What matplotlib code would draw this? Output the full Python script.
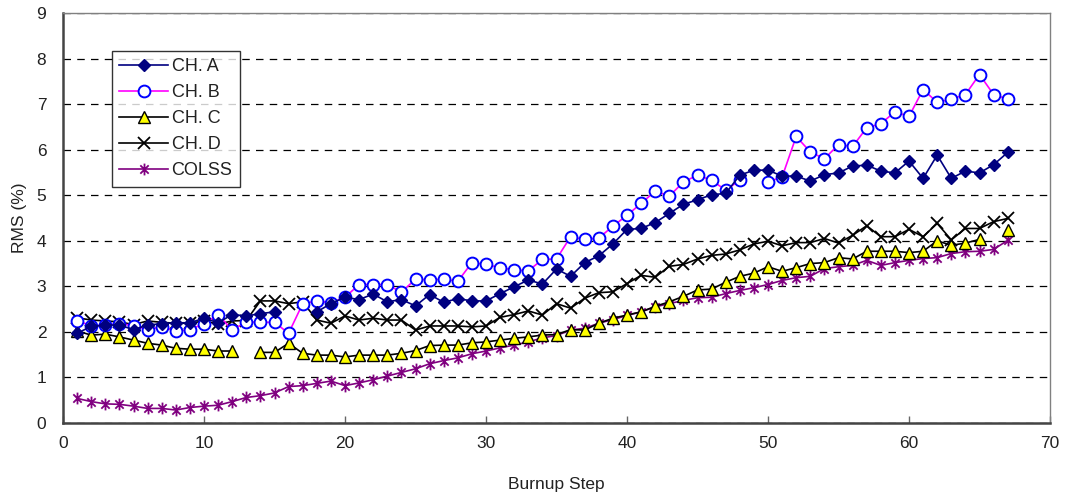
import numpy as np
import matplotlib
matplotlib.use("Agg")
import matplotlib.pyplot as plt
from matplotlib.path import Path

nan = np.nan
steps = list(range(1, 68))

ch_a = [1.97, 2.12, 2.15, 2.15, 2.05, 2.15, 2.18, 2.20, 2.20, 2.30,
        2.20, 2.38, 2.35, 2.40, 2.44, nan, nan, 2.44, 2.62, 2.76,
        2.71, 2.83, 2.66, 2.71, 2.57, 2.82, 2.65, 2.73, 2.68, 2.68,
        2.84, 2.99, 3.14, 3.05, 3.38, 3.22, 3.52, 3.67, 3.93, 4.25,
        4.27, 4.40, 4.60, 4.80, 4.90, 5.01, 5.04, 5.44, 5.55, 5.55,
        5.42, 5.42, 5.31, 5.45, 5.49, 5.64, 5.66, 5.53, 5.49, 5.75,
        5.37, 5.88, 5.37, 5.53, 5.49, 5.67, 5.94]

ch_b = [2.25, 2.13, 2.15, 2.18, 2.14, 2.05, 2.11, 2.02, 2.05, 2.18,
        2.38, 2.04, 2.22, 2.21, 2.21, 1.97, 2.62, 2.68, 2.64, 2.76,
        3.04, 3.04, 3.04, 2.87, 3.16, 3.14, 3.16, 3.11, 3.52, 3.48,
        3.41, 3.36, 3.34, 3.59, 3.60, 4.09, 4.03, 4.06, 4.32, 4.56,
        4.82, 5.09, 4.98, 5.29, 5.44, 5.33, 5.11, 5.33, nan, 5.29,
        5.40, 6.29, 5.95, 5.80, 6.11, 6.07, 6.48, 6.57, 6.83, 6.73,
        7.32, 7.04, 7.11, 7.21, 7.65, 7.21, 7.11]

ch_c = [2.02, 1.93, 1.95, 1.89, 1.82, 1.75, 1.71, 1.64, 1.62, 1.62,
        1.58, 1.58, nan, 1.55, 1.55, 1.75, 1.53, 1.49, 1.49, 1.45,
        1.49, 1.49, 1.49, 1.53, 1.59, 1.70, 1.71, 1.71, 1.76, 1.78,
        1.82, 1.86, 1.89, 1.93, 1.94, 2.05, 2.04, 2.19, 2.30, 2.37,
        2.44, 2.56, 2.66, 2.78, 2.92, 2.94, 3.09, 3.22, 3.29, 3.43,
        3.33, 3.41, 3.50, 3.52, 3.63, 3.60, 3.77, 3.77, 3.77, 3.74,
        3.77, 4.00, 3.90, 3.95, 4.03, nan, 4.23]

ch_d = [2.31, 2.26, 2.24, 2.22, 2.16, 2.24, 2.21, 2.19, 2.19, 2.24,
        2.17, 2.24, 2.25, 2.68, 2.68, 2.62, 2.66, 2.26, 2.19, 2.35,
        2.26, 2.30, 2.26, 2.26, 2.04, 2.13, 2.13, 2.13, 2.11, 2.13,
        2.32, 2.38, 2.46, 2.37, 2.62, 2.52, 2.74, 2.86, 2.88, 3.06,
        3.24, 3.20, 3.44, 3.48, 3.60, 3.68, 3.71, 3.80, 3.93, 3.99,
        3.89, 3.96, 3.96, 4.05, 3.95, 4.12, 4.33, 4.09, 4.09, 4.25,
        4.09, 4.38, 4.02, 4.27, 4.27, 4.42, 4.49]

colss = [0.54, 0.47, 0.42, 0.41, 0.37, 0.32, 0.32, 0.285, 0.34, 0.37,
         0.39, 0.47, 0.56, 0.60, 0.66, 0.80, 0.82, 0.87, 0.92, 0.82,
         0.88, 0.95, 1.03, 1.11, 1.19, 1.30, 1.37, 1.43, 1.52, 1.58,
         1.65, 1.71, 1.78, 1.87, 1.92, 2.04, 2.08, 2.19, 2.27, 2.36,
         2.44, 2.55, 2.62, 2.69, 2.75, 2.76, 2.84, 2.91, 2.97, 3.04,
         3.13, 3.19, 3.22, 3.39, 3.43, 3.46, 3.57, 3.46, 3.52, 3.57,
         3.61, 3.63, 3.72, 3.76, 3.77, 3.81, 4.01]

series_names = ["CH. A", "CH. B", "CH. C", "CH. D", "COLSS"]
x_ticks = [0, 10, 20, 30, 40, 50, 60, 70]
y_ticks = [0, 1, 2, 3, 4, 5, 6, 7, 8, 9]

plt.rcParams['font.family'] = ['Liberation Sans', 'DejaVu Sans']

# Excel-like asterisk marker: vertical bar plus X
s = 0.7071
star_path = Path([(0, -1), (0, 1), (-s, -s), (s, s), (-s, s), (s, -s)],
                 [Path.MOVETO, Path.LINETO, Path.MOVETO, Path.LINETO,
                  Path.MOVETO, Path.LINETO])

fig = plt.figure(figsize=(10.69, 4.98), dpi=100)
ax = fig.add_axes([63/1069, 1-423/498, (1050-63)/1069, (423-13)/498])

lw = 1.2
ax.plot(steps, ch_a, color='#000080', lw=lw, marker='D', ms=6.5,
        mfc='#000080', mec='#000080', label=series_names[0], zorder=5)
ax.plot(steps, ch_b, color='#FF00FF', lw=lw, marker='o', ms=8.5,
        mfc='white', mec='#0000FF', mew=1.4, label=series_names[1], zorder=4)
ax.plot(steps, ch_c, color='black', lw=lw, marker='^', ms=8,
        mfc='#FFFF00', mec='black', mew=1.0, label=series_names[2], zorder=3)
ax.plot(steps, ch_d, color='black', lw=lw, marker='x', ms=8.5,
        mec='black', mew=1.3, label=series_names[3], zorder=3)
ax.plot(steps, colss, color='#800080', lw=lw, marker=star_path, ms=8.5,
        mec='#800080', mew=1.3, label=series_names[4], zorder=2)

ax.set_xlim(0, 70)
ax.set_ylim(0, 9)
ax.set_xticks(x_ticks)
ax.set_yticks(y_ticks)
ax.yaxis.grid(True, linestyle=(0, (6, 5)), color='black', lw=0.9)
ax.set_axisbelow(True)

for side in ['top', 'right']:
    ax.spines[side].set_color('#808080')
    ax.spines[side].set_linewidth(1.0)
for side in ['left', 'bottom']:
    ax.spines[side].set_color('#444444')
    ax.spines[side].set_linewidth(1.8)

ax.tick_params(axis='x', direction='in', length=5, width=1, color='#666666',
               labelsize=12.5, labelcolor='#222222', pad=9)
ax.tick_params(axis='y', direction='in', length=0, labelsize=12.5,
               labelcolor='#222222', pad=12)

ax.set_xlabel('Burnup Step', fontsize=12.5, color='#222222', labelpad=19)
ax.set_ylabel('RMS (%)', fontsize=12.5, color='#222222', labelpad=7)

leg = ax.legend(loc='upper left', bbox_to_anchor=(0.0496, 0.907),
                frameon=True, fancybox=False, edgecolor='black',
                fontsize=13, handlelength=2.7, labelspacing=0.5,
                borderpad=0.4, handletextpad=0.2, borderaxespad=0)
leg.get_frame().set_linewidth(1.0)
for t in leg.get_texts():
    t.set_color('#222222')

fig.savefig('out.png', dpi=100)
